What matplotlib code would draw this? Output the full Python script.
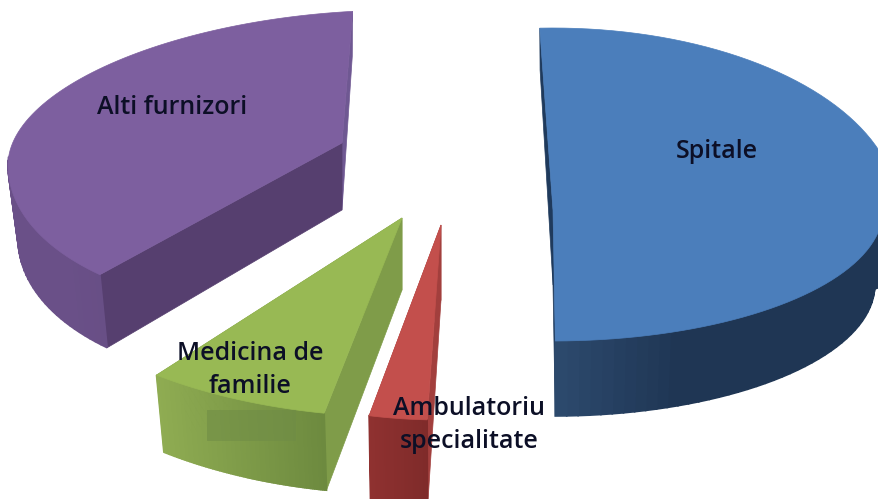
import numpy as np
import matplotlib
matplotlib.use("Agg")
import matplotlib.pyplot as plt
from matplotlib.colors import to_rgb

# shares, percent
slices = ["Spitale", "Ambulatoriu specialitate", "Medicina de familie", "Alti furnizori"]
shares = [50.5, 2.7, 7.4, 37.6]

# per slice projection, in pixels (the picture is a skewed 3D pie)
angle_nudge = [-2.2, 0.5, -0.3, 8.3]
apex_x = [553, 441, 402, 342]
apex_y = [210, 225, 218, 143]
rx_up = [345, 345, 400, 334]
rx_down = [330, 345, 400, 334]
ry_up = [182, 182, 182, 131]
ry_down = [131, 195, 199, 168]
shear = [0, 0, 0, -0.066]
depth_apex = [75, 75, 72, 67]
depth_rim = [75, 90, 77, 73]
depth_far = [42, 42, 42, 45]
base_x_scale = [0.975, 0.98, 0.97, 0.97]

top_colors = ["#4b7ebb", "#c34f4c", "#98b954", "#7d5f9f"]
wall_left = ["#2f4d72", "#8f3130", "#8fac52", "#6a5088"]
wall_right = ["#1f3654", "#7f2b2a", "#6d8a3f", "#5b4475"]
start_cut = ["#1f3a5c", "#a23f3d", "#7f9c49", "#563f6f"]
end_cut = ["#1f3a5c", "#a23f3d", "#7f9c49", "#6f5892"]

draw_order = [3, 2, 1, 0]

label_text = ["Spitale", "Ambulatoriu\nspecialitate", "Medicina de\nfamilie", "Alti furnizori"]
label_x = [717, 469, 250, 172]
label_y = [152, 425, 370, 107]


def top_point(i, theta, r=1.0):
    s, c = np.sin(np.radians(theta)), np.cos(np.radians(theta))
    rx = rx_up[i] if c > 0 else rx_down[i]
    ry = ry_up[i] if c > 0 else ry_down[i]
    dx = rx * s * r
    dy = -ry * c * r + shear[i] * dx
    return apex_x[i] + dx, apex_y[i] + dy


def base_point(i, theta, r=1.0):
    s, c = np.sin(np.radians(theta)), np.cos(np.radians(theta))
    x, y = top_point(i, theta, r)
    rim = depth_rim[i] - (depth_rim[i] - depth_far[i]) * max(c, 0)
    x = apex_x[i] + (x - apex_x[i]) * (1 - (1 - base_x_scale[i]) * r)
    return x, y + depth_apex[i] + r * (rim - depth_apex[i])


fig = plt.figure(figsize=(8.79, 4.99), dpi=100)
ax = fig.add_axes([0, 0, 1, 1])
ax.set_xlim(0, 879)
ax.set_ylim(499, 0)
ax.axis("off")

starts = np.cumsum([0] + shares[:-1]) * 3.6 + np.array(angle_nudge)
spans = np.array(shares) * 3.6

for i in draw_order:
    thetas = np.linspace(starts[i], starts[i] + spans[i], 90)

    # cut faces
    a, b = thetas[0], thetas[-1]
    for th, col in [(b, end_cut[i]), (a, start_cut[i])]:
        face = [top_point(i, th), top_point(i, th, 0), base_point(i, th, 0), base_point(i, th)]
        ax.fill(*zip(*face), color=col, lw=0.5)

    # outer wall, colour runs with x
    left, right = np.array(to_rgb(wall_left[i])), np.array(to_rgb(wall_right[i]))
    xs = [top_point(i, t)[0] for t in thetas]
    for t0, t1, x0 in zip(thetas[:-1], thetas[1:], xs[:-1]):
        if np.cos(np.radians(t0)) > 0.05 and np.cos(np.radians(t1)) > 0.05:
            continue
        f = (x0 - min(xs)) / (max(xs) - min(xs))
        if i == 0 or i == 3:
            f = min(f * 2.5, 1) if i == 0 else 1 - min((1 - f) * 1.2, 1)
        col = left + (right - left) * f
        strip = [top_point(i, t0), top_point(i, t1), base_point(i, t1), base_point(i, t0)]
        ax.fill(*zip(*strip), facecolor=col, edgecolor=col, lw=1.2)

    # top face
    outline = [top_point(i, t) for t in thetas] + [top_point(i, a, 0)]
    ax.fill(*zip(*outline), color=top_colors[i], lw=0.5)

# leftover smudge on the green wall
ax.fill_between([207, 296], 410, 441, color="#6f8c46", alpha=0.55, lw=0)

for txt, x, y in zip(label_text, label_x, label_y):
    ax.text(x, y, txt, ha="center", va="center", family="Open Sans", fontweight="semibold",
            fontsize=18, color="#0c0f26", linespacing=1.45)

fig.savefig("out.png", dpi=100, facecolor="white")
